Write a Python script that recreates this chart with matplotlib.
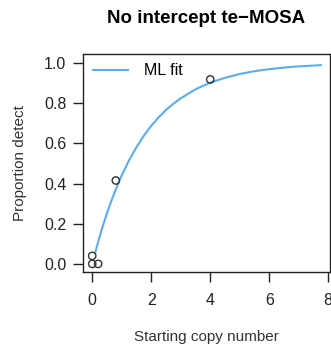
import numpy as np
import matplotlib.pyplot as plt

plt.rcParams["font.family"] = ['Liberation Sans', 'DejaVu Sans']
plt.rc('axes', unicode_minus=True)

# observed proportions detected
obs_x = [0.0, 0.0, 0.2, 0.8, 4.0]
obs_y = [0.04, 0.0, 0.0, 0.415, 0.918]

# ML fit curve
fit_x = [0.1, 0.2, 0.3, 0.4, 0.5, 0.6, 0.75, 0.9, 1.0, 1.25, 1.5, 1.75, 2.0, 2.25,
         2.5, 2.75, 3.0, 3.5, 4.0, 4.5, 5.0, 5.5, 6.0, 6.5, 7.0, 7.75]
fit_y = [0.056, 0.109, 0.160, 0.207, 0.252, 0.294, 0.353, 0.407, 0.440, 0.516,
         0.581, 0.638, 0.687, 0.729, 0.766, 0.797, 0.824, 0.869, 0.902, 0.926,
         0.945, 0.959, 0.969, 0.977, 0.983, 0.989]

xticks = [0, 2, 4, 6, 8]
yticks = [0.0, 0.2, 0.4, 0.6, 0.8, 1.0]

W = 3.31
H = 3.5
fig = plt.figure(figsize=(W, H), dpi=100)
ax = fig.add_axes([0.251, 0.223, 0.746, 0.623])

ax.plot(fit_x, fit_y, color='#5CACEE', lw=1.5, label='ML fit')
ax.scatter(obs_x, obs_y, s=28, facecolors='none', edgecolors='#333333', linewidths=1.0, zorder=3)

ax.set_xlim(-0.31, 8.06)
ax.set_ylim(-0.04, 1.045)
ax.set_xticks(xticks)
ax.set_xticklabels([str(t) for t in xticks])
ax.set_yticks(yticks)
ax.set_yticklabels(['%.1f' % t for t in yticks])
ax.tick_params(direction='out', length=7, width=1, labelsize=11.5, colors='#222222')
ax.tick_params(axis='x', pad=8)
ax.tick_params(axis='y', pad=5)
for s in ax.spines.values():
    s.set_linewidth(1.0)
    s.set_color('#222222')

ax.set_title('No intercept te\u2212MOSA', fontsize=13.5, fontweight='bold', pad=22, x=0.5)
ax.set_xlabel('Starting copy number', fontsize=11, labelpad=16, color='#333333')
ax.set_ylabel('Proportion detect', fontsize=11, labelpad=12, color='#333333')

ax.legend(loc='upper left', frameon=False, fontsize=11.5, handlelength=2.2,
          borderaxespad=0.2, handletextpad=1.0)

plt.savefig("out.png", dpi=100)
plt.close()
